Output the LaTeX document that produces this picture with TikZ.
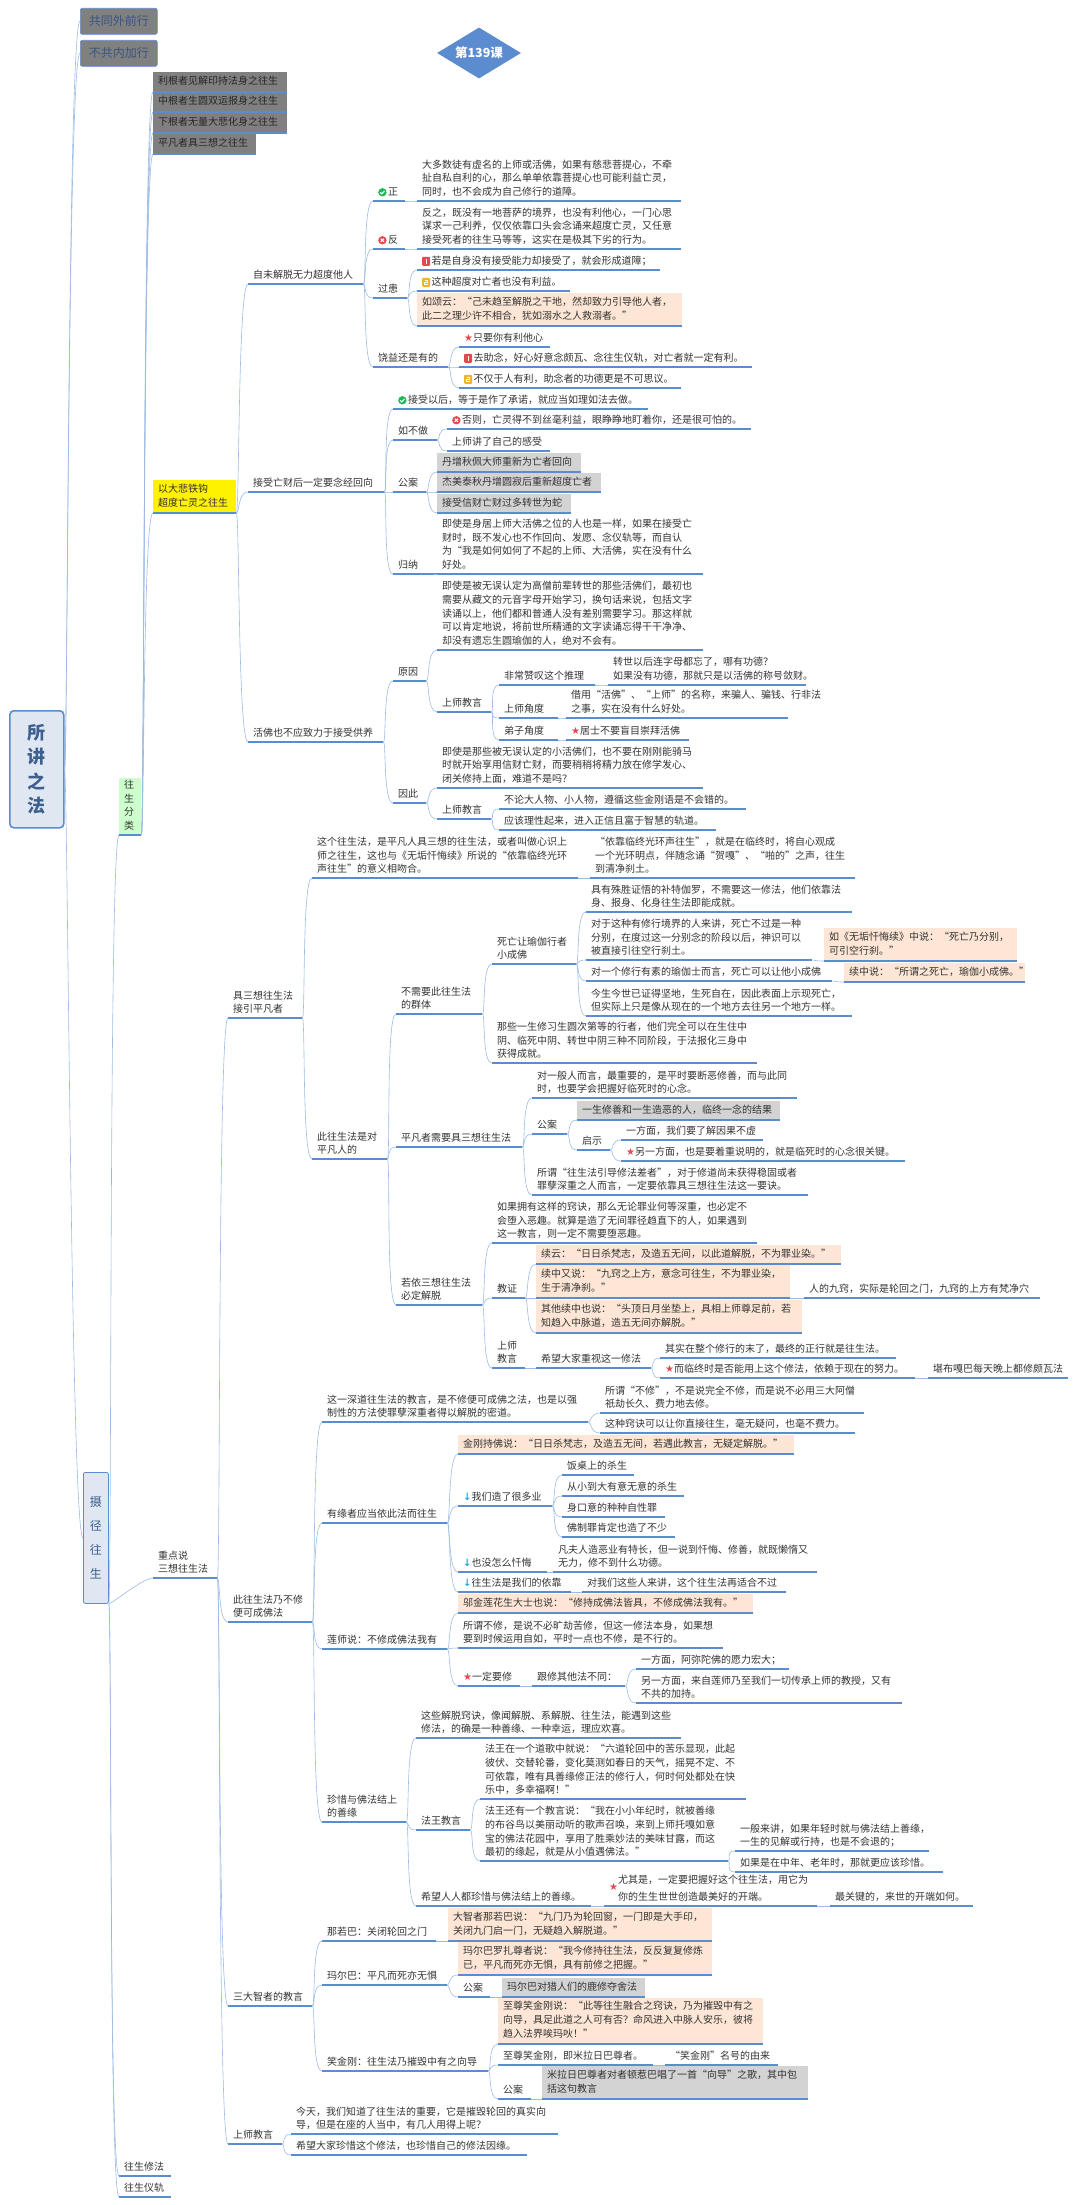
\documentclass[tikz,border=0pt]{standalone}
\usepackage{fontspec}
\usepackage{xcolor}
\usetikzlibrary{shapes.geometric}
\setmainfont{Noto Sans CJK SC}
\newfontfamily\symfont{DejaVu Sans}

\definecolor{ulblue}{HTML}{5B8CCF}
\definecolor{lkblue}{HTML}{9DBBE3}
\definecolor{tptext}{HTML}{333333}
\definecolor{peach}{HTML}{FDE6D5}
\definecolor{grayfill}{HTML}{D3D3D3}
\definecolor{darkfill}{HTML}{808080}
\definecolor{rootfill}{HTML}{DFE7F3}
\definecolor{navy}{HTML}{3F5F8F}
\definecolor{icred}{HTML}{E5484D}
\definecolor{icgreen}{HTML}{1DB954}
\definecolor{icorange}{HTML}{F5B324}
\definecolor{icblue}{HTML}{1EA7E8}

\newcommand\tpfont{\fontsize{10}{13.7}\selectfont}
\newcommand\icok{\tikz[baseline=-3.4pt,x=1pt,y=1pt]{\fill[icgreen] (0,0) circle (4.2); \draw[white,line width=1pt] (-2.2,0)--(-.6,-1.6)--(2.2,1.4);}\hspace{1.5pt}}
\newcommand\icno{\tikz[baseline=-3.4pt,x=1pt,y=1pt]{\fill[icred] (0,0) circle (4.2); \draw[white,line width=1pt] (-1.6,-1.6)--(1.6,1.6) (-1.6,1.6)--(1.6,-1.6);}\hspace{1.5pt}}
\newcommand\icone{\tikz[baseline=-3.4pt,x=1pt,y=1pt]{\fill[icred,rounded corners=1pt] (-4,-4.5) rectangle (4,4.5); \draw[white,line width=1pt] (0,-2.5)--(0,2.5);}\hspace{1.5pt}}
\newcommand\ictwo{\tikz[baseline=-3.4pt,x=1pt,y=1pt]{\fill[icorange,rounded corners=1pt] (-4,-4.5) rectangle (4,4.5); \draw[white,line width=.7pt] (-1.6,2.3)--(1.6,2.3)--(1.6,0)--(-1.6,0)--(-1.6,-2.3)--(1.6,-2.3);}\hspace{1.5pt}}
\newcommand\icstar{\textcolor{icred}{\symfont ★}}
\newcommand\icdown{\textcolor{icblue}{\symfont\bfseries ↓}}

\tikzset{
  tp/.style={anchor=south west, inner xsep=5pt, inner ysep=1pt, align=left, font=\tpfont, text=tptext,
    execute at begin node=\strut, execute at end node=\strut,
    /utils/exec={\pgfmathsetlengthmacro\tpw{#1-10}}, text width=\tpw},
  pbox/.style={tp=#1, fill=peach, inner ysep=2.5pt, minimum height=19pt},
  gbox/.style={tp=#1, fill=grayfill, inner ysep=2.5pt, minimum height=19pt},
  dbox/.style={tp=#1, fill=darkfill, text=black!85, inner ysep=2.5pt, minimum height=20pt},
  link/.style={lkblue, line width=.6pt},
  ul/.style={ulblue, line width=1.2pt},
  prebox/.style={anchor=north west, fill=darkfill, draw=ulblue, line width=.6pt, rounded corners=2pt, text=navy!90!black,
    minimum width=77pt, minimum height=26pt, inner sep=0pt, font=\fontsize{12}{14}\selectfont},
}

\begin{document}
\begin{tikzpicture}[x=1pt,y=-1pt]
    \useasboundingbox (0,0) rectangle (1080,2205);

    % left column
    \node (root) [anchor=north west, fill=rootfill, draw=ulblue, line width=1.6pt, rounded corners=4pt, text=navy, align=center, minimum width=54pt, minimum height=117pt, inner sep=0pt, font=\fontsize{18}{24.5}\selectfont\bfseries] at (9,710) {所\\讲\\之\\法};
    \node (pre1) [prebox] at (80,8) {共同外前行};
    \node (pre2) [prebox] at (80,40) {不共内加行};
    \node (she) [anchor=north west, fill=rootfill, draw=ulblue, line width=.8pt, rounded corners=2pt, text=navy, align=center, minimum width=25pt, minimum height=131pt, inner sep=0pt, font=\fontsize{12}{24}\selectfont] at (83,1472) {摄\\径\\往\\生};
    \node (title) [diamond, aspect=1.65, fill=ulblue, text=white, inner sep=0pt, minimum width=84pt, minimum height=51pt, font=\fontsize{12.5}{14}\selectfont\bfseries] at (479,53) {第139课};

    \node (cat) [tp=22, fill=green!20] at (119,835) {往\\生\\分\\类};
    \node (key) [tp=64] at (153,1578) {重点说\\三想往生法};
    \node (prac) [tp=52] at (119,2176) {往生修法};
    \node (rite) [tp=52] at (119,2197) {往生仪轨};

    % classification
    \node (c1) [dbox=134] at (153,92) {利根者见解印持法身之往生};
    \node (c2) [dbox=134] at (153,112) {中根者生圆双运报身之往生};
    \node (c3) [dbox=134] at (153,133) {下根者无量大悲化身之往生};
    \node (c4) [dbox=103] at (153,154) {平凡者具三想之往生};
    \node (c5) [tp=83, fill=yellow, inner ysep=2.5pt] at (153,513) {以大悲铁钩\\超度亡灵之往生};

    \node (ca) [tp=115] at (248,284) {自未解脱无力超度他人};
    \node (ca1) [tp=32] at (373,201) {\icok 正};
    \node (ca1t) [tp=264] at (417,201) {大多数徒有虚名的上师或活佛，如果有慈悲菩提心，不牵\\扯自私自利的心，那么单单依靠菩提心也可能利益亡灵，\\同时，也不会成为自己修行的道障。};
    \node (ca2) [tp=32] at (373,249) {\icno 反};
    \node (ca2t) [tp=264] at (417,249) {反之，既没有一地菩萨的境界，也没有利他心，一门心思\\谋求一己利养，仅仅依靠口头会念诵来超度亡灵，又任意\\接受死者的往生马等等，这实在是极其下劣的行为。};
    \node (ca3) [tp=34] at (373,298) {过患};
    \node (ca31) [tp=243] at (417,270) {\icone 若是自身没有接受能力却接受了，就会形成道障；};
    \node (ca32) [tp=153] at (417,291) {\ictwo 这种超度对亡者也没有利益。};
    \node (ca33) [pbox=265] at (417,326) {如颂云：“己未趋至解脱之干地，然却致力引导他人者，\\此二之理少许不相合，犹如溺水之人救溺者。”};
    \node (ca4) [tp=75] at (373,367) {饶益还是有的};
    \node (ca41) [tp=91] at (459,347) {\icstar 只要你有利他心};
    \node (ca42) [tp=293] at (459,367) {\icone 去助念，好心好意念颇瓦、念往生仪轨，对亡者就一定有利。};
    \node (ca43) [tp=222] at (459,388) {\ictwo 不仅于人有利，助念者的功德更是不可思议。};

    \node (cb) [tp=136] at (248,492) {接受亡财后一定要念经回向};
    \node (cb1) [tp=255] at (393,409) {\icok 接受以后，等于是作了承诺，就应当如理如法去做。};
    \node (cb2) [tp=44] at (393,440) {如不做};
    \node (cb21) [tp=304] at (447,429) {\icno 否则，亡灵得不到丝毫利益，眼睁睁地盯着你，还是很可怕的。};
    \node (cb22) [tp=103] at (447,451) {上师讲了自己的感受};
    \node (cb3) [tp=33] at (393,492) {公案};
    \node (cb31) [gbox=144] at (437,472) {丹增秋佩大师重新为亡者回向};
    \node (cb32) [gbox=164] at (437,492) {杰美泰秋丹增圆寂后重新超度亡者};
    \node (cb33) [gbox=134] at (437,513) {接受信财亡财过多转世为蛇};
    \node (cb4) [tp=44] at (393,574) {归纳};
    \node (cb41) [tp=266] at (437,574) {即使是身居上师大活佛之位的人也是一样，如果在接受亡\\财时，既不发心也不作回向、发愿、念仪轨等，而自认\\为“我是如何如何了不起的上师、大活佛，实在没有什么\\好处。};

    \node (cd) [tp=135] at (248,742) {活佛也不应致力于接受供养};
    \node (cd1) [tp=33] at (393,681) {原因};
    \node (cd11) [tp=266] at (437,650) {即使是被无误认定为高僧前辈转世的那些活佛们，最初也\\需要从藏文的元音字母开始学习，换句话来说，包括文字\\读诵以上，他们都和普通人没有差别需要学习。那这样就\\可以肯定地说，将前世所精通的文字读诵忘得干干净净、\\却没有遗忘生圆瑜伽的人，绝对不会有。};
    \node (cd12) [tp=54] at (437,712) {上师教言};
    \node (cd121) [tp=96] at (499,685) {非常赞叹这个推理};
    \node (cd1211) [tp=198] at (608,685) {转世以后连字母都忘了，哪有功德？\\如果没有功德，那就只是以活佛的称号敛财。};
    \node (cd122) [tp=59] at (499,718) {上师角度};
    \node (cd1221) [tp=222] at (566,718) {借用“活佛”、“上师”的名称，来骗人、骗钱、行非法\\之事，实在没有什么好处。};
    \node (cd123) [tp=59] at (499,740) {弟子角度};
    \node (cd1231) [tp=123] at (566,740) {\icstar 居士不要盲目崇拜活佛};
    \node (cd2) [tp=33] at (393,803) {因此};
    \node (cd21) [tp=266] at (437,788) {即使是那些被无误认定的小活佛们，也不要在刚刚能骑马\\时就开始享用信财亡财，而要稍稍将精力放在修学发心、\\闭关修持上面，难道不是吗？};
    \node (cd22) [tp=54] at (437,819) {上师教言};
    \node (cd221) [tp=247] at (499,809) {不论大人物、小人物，遵循这些金刚语是不会错的。};
    \node (cd222) [tp=217] at (499,830) {应该理性起来，进入正信且富于智慧的轨道。};

    % key points, first part
    \node (ka) [tp=74] at (228,1018) {具三想往生法\\接引平凡者};
    \node (ka1) [tp=266] at (312,878) {这个往生法，是平凡人具三想的往生法，或者叫做心识上\\师之往生，这也与《无垢忏悔续》所说的“依靠临终光环\\声往生”的意义相吻合。};
    \node (ka11) [tp=265] at (590,878) {“依靠临终光环声往生”，就是在临终时，将自心观成\\一个光环明点，伴随念诵“贺嘎”、“啪的”之声，往生\\到清净刹土。};
    \node (ka2) [tp=75] at (312,1159) {此往生法是对\\平凡人的};
    \node (ka21) [tp=86] at (396,1014) {不需要此往生法\\的群体};
    \node (ka211) [tp=84] at (492,964) {死亡让瑜伽行者\\小成佛};
    \node (ka2111) [tp=266] at (586,912) {具有殊胜证悟的补特伽罗，不需要这一修法，他们依靠法\\身、报身、化身往生法即能成就。};
    \node (ka2112) [tp=226] at (586,960) {对于这种有修行境界的人来讲，死亡不过是一种\\分别，在度过这一分别念的阶段以后，神识可以\\被直接引往空行刹土。};
    \node (ka21121) [pbox=193] at (824,961) {如《无垢忏悔续》中说：“死亡乃分别，\\可引空行刹。”};
    \node (ka2113) [tp=246] at (586,981) {对一个修行有素的瑜伽士而言，死亡可以让他小成佛};
    \node (ka21131) [pbox=181] at (844,982) {续中说：“所谓之死亡，瑜伽小成佛。”};
    \node (ka2114) [tp=266] at (586,1016) {今生今世已证得坚地，生死自在，因此表面上示现死亡，\\但实际上只是像从现在的一个地方去往另一个地方一样。};
    \node (ka212) [tp=265] at (492,1063) {那些一生修习生圆次第等的行者，他们完全可以在生住中\\阴、临死中阴、转世中阴三种不同阶段，于法报化三身中\\获得成就。};
    \node (ka22) [tp=126] at (396,1147) {平凡者需要具三想往生法};
    \node (ka221) [tp=265] at (532,1098) {对一般人而言，最重要的，是平时要断恶修善，而与此同\\时，也要学会把握好临死时的心念。};
    \node (ka222) [tp=35] at (532,1134) {公案};
    \node (ka2221) [gbox=203] at (577,1120) {一生修善和一生造恶的人，临终一念的结果};
    \node (ka2222) [tp=33] at (577,1150) {启示};
    \node (ka22221) [tp=142] at (621,1140) {一方面，我们要了解因果不虚};
    \node (ka22222) [tp=284] at (621,1161) {\icstar 另一方面，也是要着重说明的，就是临死时的心念很关键。};
    \node (ka223) [tp=276] at (532,1195) {所谓“往生法引导修法差者”，对于修道尚未获得稳固或者\\罪孽深重之人而言，一定要依靠具三想往生法这一要诀。};
    \node (ka23) [tp=86] at (396,1305) {若依三想往生法\\必定解脱};
    \node (ka231) [tp=265] at (492,1243) {如果拥有这样的窍诀，那么无论罪业何等深重，也必定不\\会堕入恶趣。就算是造了无间罪径趋直下的人，如果遇到\\这一教言，则一定不需要堕恶趣。};
    \node (ka232) [tp=33] at (492,1298) {教证};
    \node (ka2321) [pbox=305] at (536,1264) {续云：“日日杀梵志，及造五无间，以此道解脱，不为罪业染。”};
    \node (ka2322) [pbox=254] at (536,1298) {续中又说：“九窍之上方，意念可往生，不为罪业染，\\生于清净刹。”};
    \node (ka23221) [tp=236] at (804,1298) {人的九窍，实际是轮回之门，九窍的上方有梵净穴};
    \node (ka2323) [pbox=266] at (536,1333) {其他续中也说：“头顶日月坐垫上，具相上师尊足前，若\\知趋入中脉道，造五无间亦解脱。”};
    \node (ka233) [tp=33] at (492,1368) {上师\\教言};
    \node (ka2331) [tp=115] at (536,1368) {希望大家重视这一修法};
    \node (ka23311) [tp=236] at (660,1358) {其实在整个修行的末了，最终的正行就是往生法。};
    \node (ka23312) [tp=255] at (660,1378) {\icstar 而临终时是否能用上这个修法，依赖于现在的努力。};
    \node (ka233121) [tp=140] at (928,1378) {堪布嘎巴每天晚上都修颇瓦法};

    % key points, second part
    \node (kb) [tp=84] at (228,1622) {此往生法乃不修\\便可成佛法};
    \node (kb1) [tp=266] at (322,1422) {这一深道往生法的教言，是不修便可成佛之法，也是以强\\制性的方法使罪孽深重者得以解脱的密道。};
    \node (kb11) [tp=264] at (600,1413) {所谓“不修”，不是说完全不修，而是说不必用三大阿僧\\祇劫长久、费力地去修。};
    \node (kb12) [tp=255] at (600,1433) {这种窍诀可以让你直接往生，毫无疑问，也毫不费力。};
    \node (kb2) [tp=125] at (322,1523) {有缘者应当依此法而往生};
    \node (kb21) [pbox=336] at (458,1454) {金刚持佛说：“日日杀梵志，及造五无间，若遇此教言，无疑定解脱。”};
    \node (kb22) [tp=94] at (458,1506) {\icdown 我们造了很多业};
    \node (kb221) [tp=72] at (562,1475) {饭桌上的杀生};
    \node (kb222) [tp=122] at (562,1496) {从小到大有意无意的杀生};
    \node (kb223) [tp=103] at (562,1517) {身口意的种种自性罪};
    \node (kb224) [tp=113] at (562,1537) {佛制罪肯定也造了不少};
    \node (kb23) [tp=89] at (458,1572) {\icdown 也没怎么忏悔};
    \node (kb231) [tp=264] at (553,1572) {凡夫人造恶业有特长，但一说到忏悔、修善，就既懒惰又\\无力，修不到什么功德。};
    \node (kb24) [tp=113] at (458,1592) {\icdown 往生法是我们的依靠};
    \node (kb241) [tp=204] at (582,1592) {对我们这些人来讲，这个往生法再适合不过};
    \node (kb3) [tp=125] at (322,1649) {莲师说：不修成佛法我有};
    \node (kb31) [pbox=295] at (458,1613) {邬金莲花生大士也说：“修持成佛法皆具，不修成佛法我有。”};
    \node (kb32) [tp=265] at (458,1648) {所谓不修，是说不必旷劫苦修，但这一修法本身，如果想\\要到时候运用自如，平时一点也不修，是不行的。};
    \node (kb33) [tp=62] at (458,1686) {\icstar 一定要修};
    \node (kb331) [tp=93] at (532,1686) {跟修其他法不同：};
    \node (kb3311) [tp=153] at (636,1669) {一方面，阿弥陀佛的愿力宏大；};
    \node (kb3312) [tp=266] at (636,1703) {另一方面，来自莲师乃至我们一切传承上师的教授，又有\\不共的加持。};
    \node (kb4) [tp=84] at (322,1822) {珍惜与佛法结上\\的善缘};
    \node (kb41) [tp=265] at (416,1738) {这些解脱窍诀，像闻解脱、系解脱、往生法，能遇到这些\\修法，的确是一种善缘、一种幸运，理应欢喜。};
    \node (kb42) [tp=54] at (416,1830) {法王教言};
    \node (kb421) [tp=266] at (480,1799) {法王在一个道歌中就说：“六道轮回中的苦乐显现，此起\\彼伏、交替轮番，变化莫测如春日的天气，摇晃不定、不\\可依靠，唯有具善缘修正法的修行人，何时何处都处在快\\乐中，多幸福啊！”};
    \node (kb422) [tp=248] at (480,1861) {法王还有一个教言说：“我在小小年纪时，就被善缘\\的布谷鸟以美丽动听的歌声召唤，来到上师托嘎如意\\宝的佛法花园中，享用了胜乘妙法的美味甘露，而这\\最初的缘起，就是从小值遇佛法。”};
    \node (kb4221) [tp=194] at (735,1851) {一般来讲，如果年轻时就与佛法结上善缘，\\一生的见解或行持，也是不会退的；};
    \node (kb4222) [tp=208] at (735,1872) {如果是在中年、老年时，那就更应该珍惜。};
    \node (kb43) [tp=175] at (416,1906) {希望人人都珍惜与佛法结上的善缘。};
    \node (kb431) [tp=213] at (604,1906) {\makebox[0pt][l]{\raisebox{-7pt}{\icstar}}\hspace*{9pt}尤其是，一定要把握好这个往生法，用它为\\\hspace*{9pt}你的生生世世创造最美好的开端。};
    \node (kb4311) [tp=143] at (830,1906) {最关键的，来世的开端如何。};

    % the three sages
    \node (kc) [tp=84] at (228,2006) {三大智者的教言};
    \node (kc1) [tp=114] at (322,1941) {那若巴：关闭轮回之门};
    \node (kc11) [pbox=264] at (448,1941) {大智者那若巴说：“九门乃为轮回窗，一门即是大手印，\\关闭九门启一门，无疑趋入解脱道。”};
    \node (kc2) [tp=125] at (322,1985) {玛尔巴：平凡而死亦无惧};
    \node (kc21) [pbox=254] at (458,1975) {玛尔巴罗扎尊者说：“我今修持往生法，反反复复修炼\\已，平凡而死亦无惧，具有前修之把握。”};
    \node (kc22) [tp=32] at (458,1997) {公案};
    \node (kc221) [gbox=143] at (502,1997) {玛尔巴对猎人们的鹿修夺舍法};
    \node (kc3) [tp=166] at (322,2071) {笑金刚：往生法乃摧毁中有之向导};
    \node (kc31) [pbox=265] at (498,2044) {至尊笑金刚说：“此等往生融合之窍诀，乃为摧毁中有之\\向导，具足此道之人可有否？命风进入中脉人安乐，彼将\\趋入法界唉玛吙！”};
    \node (kc32) [tp=155] at (498,2065) {至尊笑金刚，即米拉日巴尊者。};
    \node (kc321) [tp=113] at (665,2065) {“笑金刚”名号的由来};
    \node (kc33) [tp=33] at (498,2099) {公案};
    \node (kc331) [gbox=266] at (542,2099) {米拉日巴尊者对者顿惹巴唱了一首“向导”之歌，其中包\\括这句教言};

    \node (kd) [tp=54] at (228,2144) {上师教言};
    \node (kd1) [tp=267] at (291,2134) {今天，我们知道了往生法的重要，它是摧毁轮回的真实向\\导，但是在座的人当中，有几人用得上呢？};
    \node (kd2) [tp=236] at (291,2155) {希望大家珍惜这个修法，也珍惜自己的修法因缘。};

    \draw[link] (root.east) .. controls +(3,0) and +(-12,0) .. (pre1.west);
    \draw[link] (root.east) .. controls +(3,0) and +(-12,0) .. (pre2.west);
    \draw[link] (root.east) .. controls +(3,0) and +(-12,0) .. (she.west);

    % parent/child pairs: connector and underline of the child
    \foreach \p/\c in {she/cat,she/key,she/prac,she/rite,
      cat/c1,cat/c2,cat/c3,cat/c4,cat/c5,c5/ca,c5/cb,c5/cd,
      ca/ca1,ca1/ca1t,ca/ca2,ca2/ca2t,ca/ca3,ca3/ca31,ca3/ca32,ca3/ca33,ca/ca4,ca4/ca41,ca4/ca42,ca4/ca43,
      cb/cb1,cb/cb2,cb2/cb21,cb2/cb22,cb/cb3,cb3/cb31,cb3/cb32,cb3/cb33,cb/cb4,cb4/cb41,
      cd/cd1,cd1/cd11,cd1/cd12,cd12/cd121,cd121/cd1211,cd12/cd122,cd122/cd1221,cd12/cd123,cd123/cd1231,
      cd/cd2,cd2/cd21,cd2/cd22,cd22/cd221,cd22/cd222,
      key/ka,ka/ka1,ka1/ka11,ka/ka2,ka2/ka21,ka21/ka211,ka211/ka2111,ka211/ka2112,ka2112/ka21121,ka211/ka2113,ka2113/ka21131,ka211/ka2114,ka21/ka212,
      ka2/ka22,ka22/ka221,ka22/ka222,ka222/ka2221,ka222/ka2222,ka2222/ka22221,ka2222/ka22222,ka22/ka223,
      ka2/ka23,ka23/ka231,ka23/ka232,ka232/ka2321,ka232/ka2322,ka2322/ka23221,ka232/ka2323,ka23/ka233,ka233/ka2331,ka2331/ka23311,ka2331/ka23312,ka23312/ka233121,
      key/kb,kb/kb1,kb1/kb11,kb1/kb12,kb/kb2,kb2/kb21,kb2/kb22,kb22/kb221,kb22/kb222,kb22/kb223,kb22/kb224,kb2/kb23,kb23/kb231,kb2/kb24,kb24/kb241,
      kb/kb3,kb3/kb31,kb3/kb32,kb3/kb33,kb33/kb331,kb331/kb3311,kb331/kb3312,
      kb/kb4,kb4/kb41,kb4/kb42,kb42/kb421,kb42/kb422,kb422/kb4221,kb422/kb4222,kb4/kb43,kb43/kb431,kb431/kb4311,
      key/kc,kc/kc1,kc1/kc11,kc/kc2,kc2/kc21,kc2/kc22,kc22/kc221,kc/kc3,kc3/kc31,kc3/kc32,kc32/kc321,kc3/kc33,kc33/kc331,
      key/kd,kd/kd1,kd/kd2}
    {
      \draw[link] (\p.south east) .. controls +(3,0) and +(-10,0) .. (\c.south west);
      \draw[ul] (\c.south west) -- (\c.south east);
    }
\end{tikzpicture}
\end{document}
